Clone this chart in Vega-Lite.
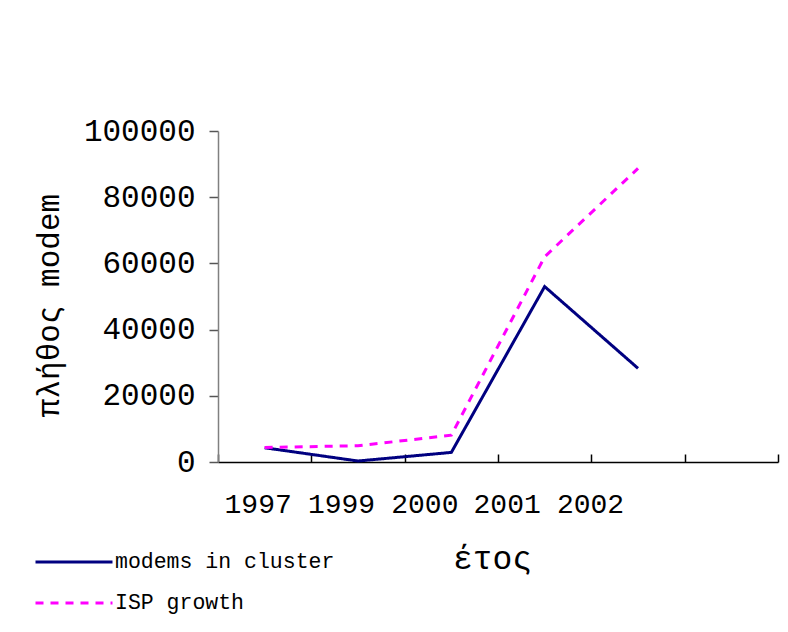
{
  "$schema": "https://vega.github.io/schema/vega-lite/v6.json",
  "width": 560,
  "height": 331,
  "autosize": "none",
  "padding": {"left": 218, "top": 131, "right": 10, "bottom": 170},
  "background": "white",
  "config": {"view": {"stroke": null}, "font": "Liberation Mono"},
  "data": {
    "values": [
      {"year": "1997", "series": "modems in cluster", "value": 4300},
      {"year": "1999", "series": "modems in cluster", "value": 300},
      {"year": "2000", "series": "modems in cluster", "value": 2900},
      {"year": "2001", "series": "modems in cluster", "value": 53000},
      {"year": "2002", "series": "modems in cluster", "value": 28300},
      {"year": "1997", "series": "ISP growth", "value": 4400},
      {"year": "1999", "series": "ISP growth", "value": 4900},
      {"year": "2000", "series": "ISP growth", "value": 8100},
      {"year": "2001", "series": "ISP growth", "value": 62000},
      {"year": "2002", "series": "ISP growth", "value": 88700}
    ]
  },
  "mark": {"type": "line", "strokeWidth": 3},
  "encoding": {
    "x": {
      "field": "year",
      "type": "nominal",
      "bandPosition": 0.5,
      "scale": {"type": "band", "domain": ["1997", "1999", "2000", "2001", "2002", ""], "paddingInner": 0, "paddingOuter": 0},
      "axis": {
        "title": "έτος",
        "tickBand": "extent",
        "tickSize": -8,
        "labelPadding": 58,
        "labelAngle": 0,
        "labelFontSize": 28,
        "labelColor": "#000",
        "labelBaseline": "alphabetic",
        "labelOffset": {
          "condition": [
            {"test": "datum.value === '1997'", "value": -7},
            {"test": "datum.value === '1999'", "value": -17},
            {"test": "datum.value === '2000'", "value": -27},
            {"test": "datum.value === '2001'", "value": -38}
          ],
          "value": -48
        },
        "domainColor": "#000",
        "domainWidth": 1.5,
        "tickColor": "#000",
        "tickWidth": 1.5,
        "titleFontSize": 33,
        "titleFontWeight": "normal",
        "titleColor": "#000",
        "titleX": 274,
        "titleY": 106,
        "titleBaseline": "alphabetic"
      }
    },
    "y": {
      "field": "value",
      "type": "quantitative",
      "scale": {"domain": [0, 100000], "nice": false},
      "axis": {
        "title": "πλήθος modem",
        "values": [0, 20000, 40000, 60000, 80000, 100000],
        "format": "d",
        "grid": false,
        "tickSize": 9,
        "labelPadding": 14,
        "labelFontSize": 31,
        "labelColor": "#000",
        "domainColor": "#808080",
        "domainWidth": 1.5,
        "tickColor": "#555",
        "tickWidth": 1.5,
        "titleFontSize": 31,
        "titleFontWeight": "normal",
        "titleColor": "#000",
        "titleAngle": -90,
        "titleX": -169,
        "titleY": 174,
        "titleAlign": "center",
        "titleBaseline": "middle"
      }
    },
    "color": {
      "field": "series",
      "type": "nominal",
      "scale": {"domain": ["modems in cluster", "ISP growth"], "range": ["#000080", "#FF00FF"]},
      "legend": {
        "orient": "none",
        "legendX": -165,
        "legendY": 410,
        "title": null,
        "padding": 0,
        "symbolType": "M-2,0L2,0",
        "symbolSize": 1482,
        "symbolStrokeWidth": 3,
        "labelFontSize": 21.5,
        "labelColor": "#000",
        "labelOffset": 20,
        "labelLimit": 0,
        "rowPadding": 9
      }
    },
    "strokeDash": {
      "field": "series",
      "type": "nominal",
      "scale": {"domain": ["modems in cluster", "ISP growth"], "range": [[1, 0], [8, 7]]},
      "legend": {
        "orient": "none",
        "legendX": -165,
        "legendY": 410,
        "title": null,
        "padding": 0,
        "symbolType": "M-2,0L2,0",
        "symbolSize": 1482,
        "symbolStrokeWidth": 3,
        "labelFontSize": 21.5,
        "labelColor": "#000",
        "labelOffset": 20,
        "labelLimit": 0,
        "rowPadding": 9
      }
    }
  }
}
